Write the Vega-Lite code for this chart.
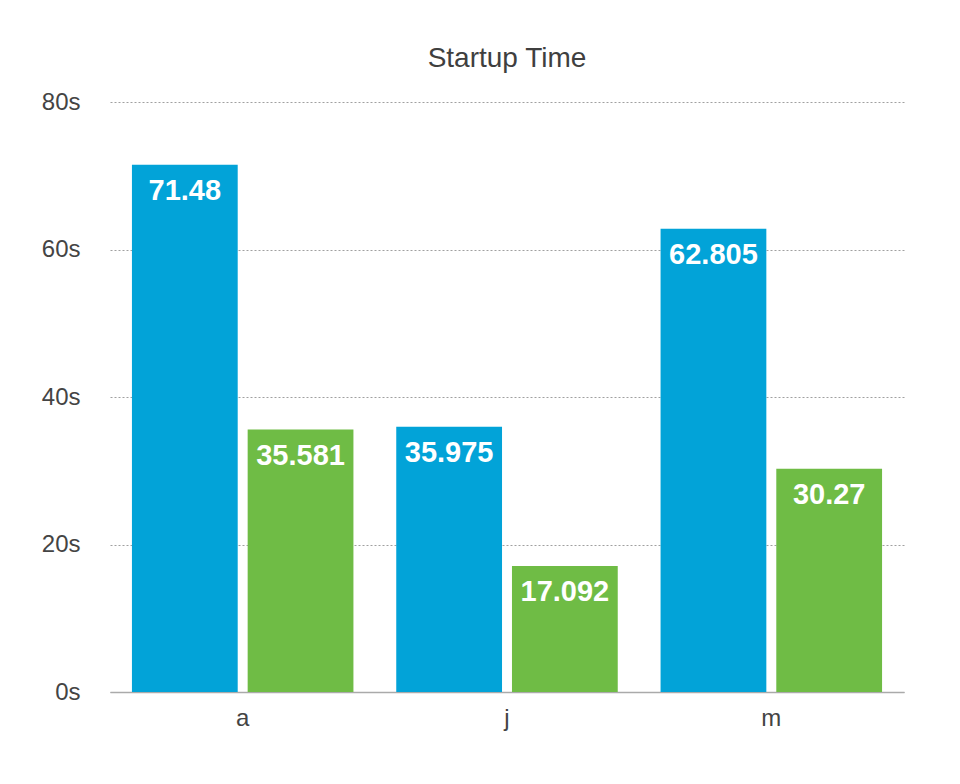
{
  "$schema": "https://vega.github.io/schema/vega-lite/v6.json",
  "width": 794,
  "height": 590,
  "autosize": {"type": "none"},
  "padding": {"left": 110, "top": 102, "right": 56, "bottom": 92},
  "background": "white",
  "config": {"view": {"stroke": null}, "font": "Liberation Sans"},
  "title": {"text": "Startup Time", "fontSize": 28, "font": "Liberation Sans", "fontWeight": "normal", "color": "#3f3f3f", "anchor": "middle", "offset": 17},
  "data": {"values": [
    {"group": "a", "series": "s1", "value": 71.48},
    {"group": "a", "series": "s2", "value": 35.581},
    {"group": "j", "series": "s1", "value": 35.975},
    {"group": "j", "series": "s2", "value": 17.092},
    {"group": "m", "series": "s1", "value": 62.805},
    {"group": "m", "series": "s2", "value": 30.27}
  ]},
  "encoding": {
    "x": {"field": "group", "type": "nominal", "scale": {"paddingInner": 0.162, "paddingOuter": 0.083},
      "axis": {"title": null, "labelAngle": 0, "ticks": false, "domainColor": "#aaaaaa", "domainWidth": 1.5, "labelFontSize": 24, "labelColor": "#444444", "labelPadding": 14, "labelFont": "Liberation Sans"}},
    "xOffset": {"field": "series", "type": "nominal", "scale": {"paddingInner": 0.086, "paddingOuter": 0}},
    "y": {"field": "value", "type": "quantitative", "scale": {"domain": [0, 80]},
      "axis": {"title": null, "values": [0, 20, 40, 60, 80], "labelExpr": "datum.value + 's'", "grid": true, "gridDash": [2, 2], "gridColor": "#a0a0a0", "domain": false, "ticks": false, "labelPadding": 30, "labelFontSize": 24, "labelColor": "#444444", "labelFont": "Liberation Sans"}}
  },
  "layer": [
    {"mark": {"type": "bar"}, "encoding": {"color": {"field": "series", "type": "nominal", "scale": {"range": ["#02a3d8", "#6fbc45"]}, "legend": null}}},
    {"mark": {"type": "text", "baseline": "alphabetic", "dy": 35, "fontSize": 29, "font": "Liberation Sans", "fontWeight": "bold", "color": "#ffffff"}, "encoding": {"text": {"field": "value", "type": "quantitative"}}}
  ]
}
